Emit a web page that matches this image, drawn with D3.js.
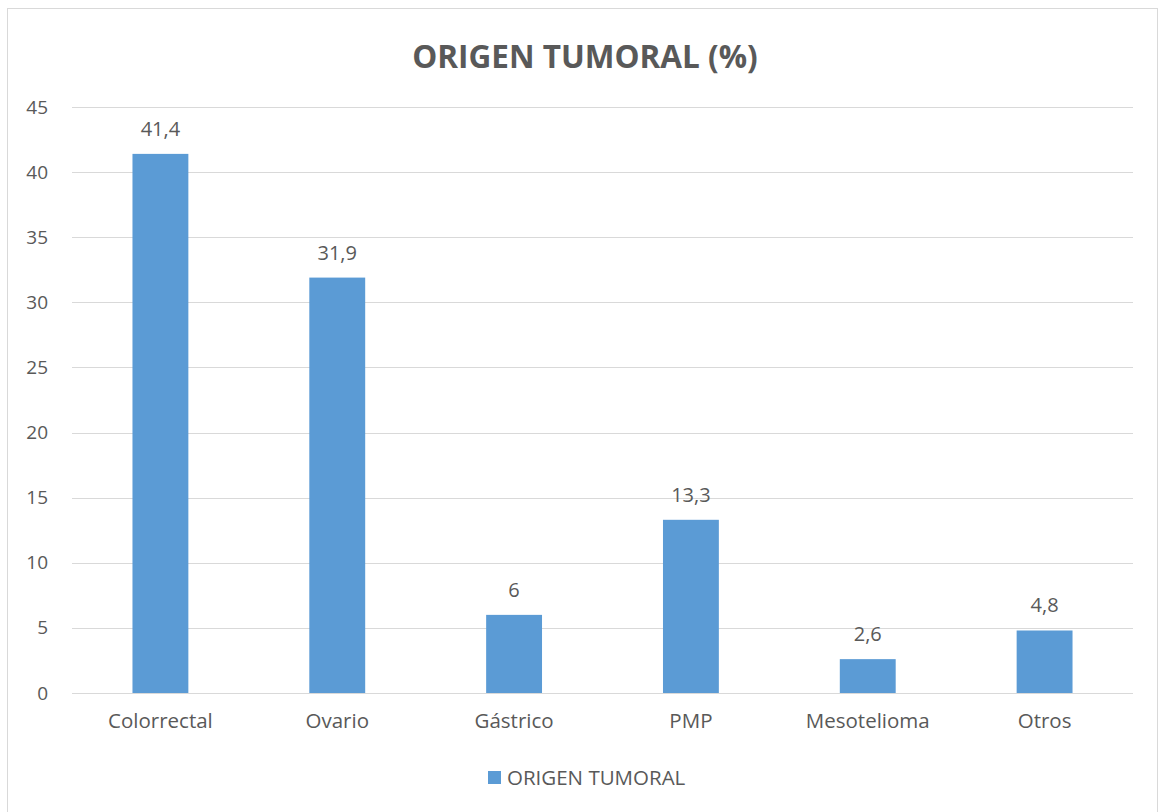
<!DOCTYPE html>
<html>
<head>
<meta charset="utf-8">
<script src="https://cdn.jsdelivr.net/npm/d3@7"></script>
<style>
  body { margin: 0; background: #fff; }
  text { font-family: "Open Sans", "Noto Sans", sans-serif; fill: #595959; }
</style>
</head>
<body>
<div id="chart"></div>
<script>
const categories = ['Colorrectal', 'Ovario', 'Gástrico', 'PMP', 'Mesotelioma', 'Otros'];
const values = [41.4, 31.9, 6, 13.3, 2.6, 4.8];
const yTicks = [0, 5, 10, 15, 20, 25, 30, 35, 40, 45];
const seriesName = 'ORIGEN TUMORAL';
const title = 'ORIGEN TUMORAL (%)';

const W = 1160, H = 812;
const margin = { top: 107, right: 27, bottom: 119, left: 72 };
const width = W - margin.left - margin.right;
const height = H - margin.top - margin.bottom;

const svg = d3.select('#chart').append('svg').attr('width', W).attr('height', H);

svg.append('rect').attr('x', 7.5).attr('y', 8.5).attr('width', 1150).attr('height', 830)
    .attr('fill', '#fff').attr('stroke', '#d9d9d9').attr('stroke-width', 1);

svg.append('text').attr('x', 585).attr('y', 68).attr('text-anchor', 'middle')
    .style('font-size', '31.5px').style('font-weight', 'bold').text(title);

const g = svg.append('g').attr('transform', `translate(${margin.left},${margin.top})`);

const x = d3.scaleBand().domain(categories).range([0, width]).paddingInner(0.684).paddingOuter(0.342);
const y = d3.scaleLinear().domain([0, 45]).range([height, 0]);

// gridlines
g.selectAll('.grid').data(yTicks).join('line')
    .attr('x1', 0).attr('x2', width)
    .attr('y1', d => Math.round(y(d)) + 0.5).attr('y2', d => Math.round(y(d)) + 0.5)
    .attr('stroke', '#d9d9d9').attr('stroke-width', 1);

const yAxis = g.append('g').call(d3.axisLeft(y).tickValues(yTicks).tickSize(0).tickPadding(24));
yAxis.select('.domain').remove();
yAxis.selectAll('text').style('font-size', '19px').attr('fill', '#595959').style('font-family', null);

const xAxis = g.append('g').attr('transform', `translate(0,${height})`)
    .call(d3.axisBottom(x).tickSize(0).tickPadding(20));
xAxis.select('.domain').remove();
xAxis.selectAll('text').style('font-size', '20.5px').attr('fill', '#595959').style('font-family', null);

g.selectAll('.bar').data(values).join('rect')
    .attr('x', (d, i) => x(categories[i]))
    .attr('y', d => y(d))
    .attr('width', x.bandwidth())
    .attr('height', d => height - y(d))
    .attr('fill', '#5b9bd5');

g.selectAll('.lbl').data(values).join('text')
    .attr('x', (d, i) => x(categories[i]) + x.bandwidth() / 2)
    .attr('y', d => y(d) - 18)
    .attr('text-anchor', 'middle')
    .style('font-size', '20px')
    .text(d => String(d).replace('.', ','));

// legend
const lg = svg.append('g').attr('transform', 'translate(488,771)');
lg.append('rect').attr('width', 13).attr('height', 13).attr('fill', '#5b9bd5');
lg.append('text').attr('x', 19).attr('y', 14).style('font-size', '20.5px').text(seriesName);
</script>
</body>
</html>
